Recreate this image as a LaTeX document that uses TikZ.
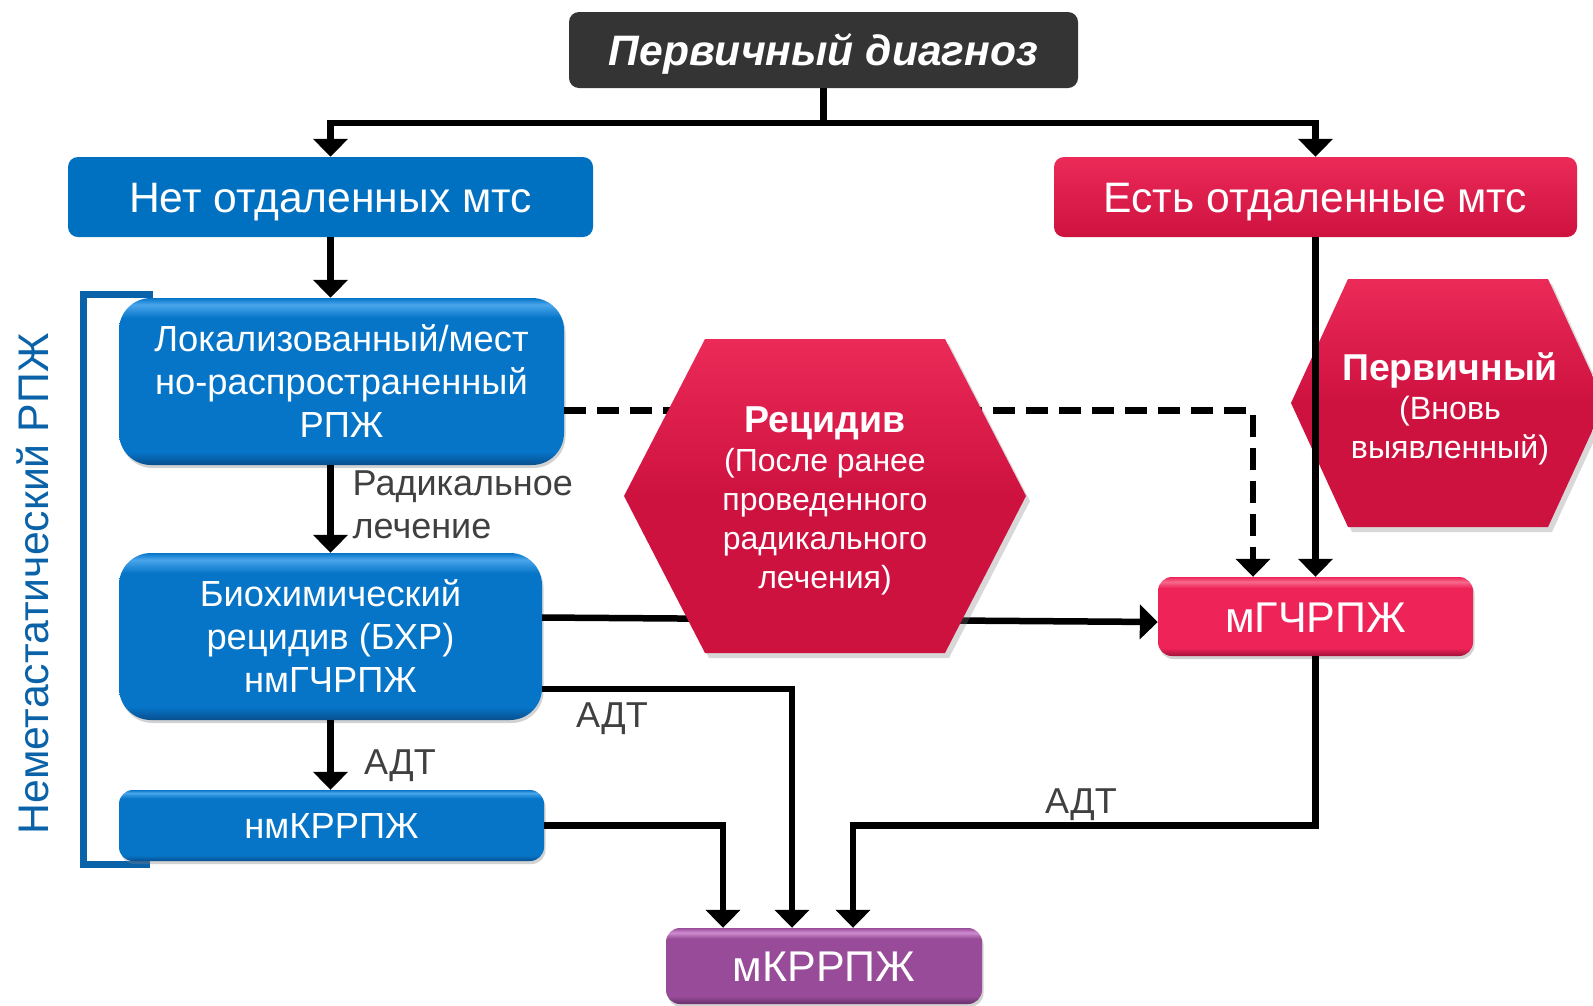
\documentclass[tikz,border=0pt]{standalone}
\usepackage{fontspec}
\setmainfont{Liberation Sans}
\usetikzlibrary{arrows.meta,shadows,calc}

\definecolor{dkgray}{HTML}{343434}
\definecolor{flatblue}{HTML}{0070C0}
\definecolor{bluemain}{HTML}{0675C8}
\definecolor{bluelt}{HTML}{4AA6EC}
\definecolor{bluedk}{HTML}{084F8E}
\definecolor{redmain}{HTML}{EE2357}
\definecolor{redlt}{HTML}{F66A8D}
\definecolor{reddk}{HTML}{A0123A}
\definecolor{hexlt}{HTML}{EB2A58}
\definecolor{hexdk}{HTML}{CE1240}
\definecolor{purmain}{HTML}{974B98}
\definecolor{purlt}{HTML}{CF8CD0}
\definecolor{purdk}{HTML}{65306A}
\definecolor{brk}{HTML}{0A62A8}
\definecolor{lbl}{HTML}{404040}

\pgfdeclareverticalshading{glossblue}{100bp}{color(0bp)=(bluedk); color(25bp)=(bluedk); color(29bp)=(bluemain); color(69bp)=(bluemain); color(73bp)=(bluelt); color(75bp)=(bluemain); color(100bp)=(bluemain)}
\pgfdeclareverticalshading{glossred}{100bp}{color(0bp)=(reddk); color(25bp)=(reddk); color(30bp)=(redmain); color(68bp)=(redmain); color(72bp)=(redlt); color(75bp)=(redmain); color(100bp)=(redmain)}
\pgfdeclareverticalshading{glosspur}{100bp}{color(0bp)=(purdk); color(25bp)=(purdk); color(30bp)=(purmain); color(68bp)=(purmain); color(72bp)=(purlt); color(75bp)=(purmain); color(100bp)=(purmain)}

\tikzset{
  conn/.style={draw=black, line width=6.5pt, line join=miter},
  arr/.style={conn, -{Triangle[width=34pt,length=18pt]}},
  dasharr/.style={arr, dash pattern=on 22pt off 11pt},
  basebox/.style={inner sep=0pt, text=white, align=center},
  oneline/.style={text height=#1, text depth=0pt},
  flatbox/.style={basebox, oneline=30.7pt, rounded corners=10pt},
  gloss/.style={basebox, shade, shading=#1, shading angle=0,
    drop shadow={opacity=0.35, shadow xshift=1.5pt, shadow yshift=-3pt}},
  hexpath/.style={top color=hexlt, bottom color=hexdk, middle color=hexdk,
    drop shadow={opacity=0.3, shadow xshift=4pt, shadow yshift=-5pt}},
  bigfont/.style={font=\fontsize{42.6}{50}\selectfont},
  mfont/.style={font=\fontsize{43}{50}\selectfont},
  midfont/.style={font=\fontsize{36.3}{43}\selectfont},
  lblfont/.style={text=lbl, inner sep=0pt, font=\fontsize{36}{43}\selectfont},
}

\begin{document}
\begin{tikzpicture}[x=1pt,y=-1pt]
\clip (0,0) rectangle (1593,1005);
\fill[white] (0,0) rectangle (1593,1005);

% bracket and rotated label
\draw[brk, line width=7pt] (153,294) -- (83,294) -- (83,864) -- (150,864);
\node[rotate=90, text=brk, inner sep=0pt, font=\fontsize{42.8}{50}\selectfont] (nmlabel) at (33,584) {Неметастатический РПЖ};

% boxes
\node[flatbox, fill=dkgray, minimum width=509pt, minimum height=76pt,
  font=\fontsize{42.6}{50}\selectfont\bfseries\itshape] (top) at (823.5,50) {Первичный диагноз};
\node[flatbox, fill=flatblue, minimum width=525pt, minimum height=80pt, bigfont] (no) at (330.5,197) {Нет отдаленных мтс};
\node[flatbox, top color=hexlt, bottom color=hexdk, minimum width=523pt, minimum height=80pt, bigfont] (yes) at (1315.5,197) {Есть отдаленные мтс};

\node[gloss=glossblue, rounded corners=32pt, minimum width=445pt, minimum height=167pt, midfont] (loc) at (341.5,381.5) {Локализованный/мест\\но-распространенный\\РПЖ};
\node[gloss=glossblue, rounded corners=32pt, minimum width=423pt, minimum height=167pt, midfont] (bio) at (330.5,636.5) {Биохимический\\рецидив (БХР)\\нмГЧРПЖ};
\node[gloss=glossblue, oneline=26.1pt, rounded corners=14pt, minimum width=425pt, minimum height=71pt, midfont] (nmk) at (331.5,825.5) {нмКРРПЖ};
\node[gloss=glossred, oneline=31pt, rounded corners=14pt, minimum width=315pt, minimum height=79pt, mfont] (mgch) at (1315.5,616.5) {мГЧРПЖ};
\node[gloss=glosspur, oneline=31pt, rounded corners=14pt, minimum width=316pt, minimum height=76pt, mfont] (mkr) at (824,966) {мКРРПЖ};

% connectors behind the relapse hexagon
\draw[dasharr] ([yshift=-29pt]loc.east) -| ([xshift=-62.5pt]mgch.north);
\draw[arr] ([yshift=19pt]bio.east) -- ([yshift=-5.5pt]mgch.west);

% relapse hexagon
\path[hexpath] (624,496) -- (705,339) -- (945,339) -- (1026,496) -- (945,653) -- (705,653) -- cycle;
\node[text=white, inner sep=0pt, align=center, font=\fontsize{32}{39}\selectfont] (rec) at (825,501)
  {{\fontsize{37.5}{43}\selectfont\bfseries Рецидив}\\(После ранее\\проведенного\\радикального\\лечения)};

% primary hexagon
\path[hexpath] (1291,403) -- (1348,279) -- (1548,279) -- (1605,403) -- (1548,527) -- (1348,527) -- cycle;
\node[text=white, inner sep=0pt, align=center, font=\fontsize{32.2}{39}\selectfont] (prim) at (1450,409)
  {{\fontsize{37.4}{42}\selectfont\bfseries Первичный}\\(Вновь\\выявленный)};

% top split
\draw[conn] (top.south) -- ($(top.south)+(0,35)$) coordinate (split);
\draw[arr] (split) -| (no.north);
\draw[arr] (split) -| (yes.north);

% left column
\draw[arr] (no.south) -- (no.south |- loc.north);
\draw[arr] (bio.north |- loc.south) -- (bio.north);
\draw[arr] (bio.south) -- (bio.south |- nmk.north);

% right column
\draw[arr] (yes.south) -- (yes.south |- mgch.north);

% to mCRPC
\draw[arr] (nmk.east) -| ([xshift=-101pt]mkr.north);
\draw[arr] ([yshift=-52.5pt]bio.east) -| ([xshift=-32pt]mkr.north);
\draw[arr] (mgch.south) -- (mgch.south |- nmk.east) -| ([xshift=29pt]mkr.north);

% labels
\node[lblfont, anchor=west, align=left] (radlbl) at (352.5,505) {Радикальное\\лечение};
\node[lblfont] (adt1) at (400,766) {АДТ};
\node[lblfont] (adt2) at (612,719) {АДТ};
\node[lblfont] (adt3) at (1081,805) {АДТ};
\end{tikzpicture}
\end{document}
